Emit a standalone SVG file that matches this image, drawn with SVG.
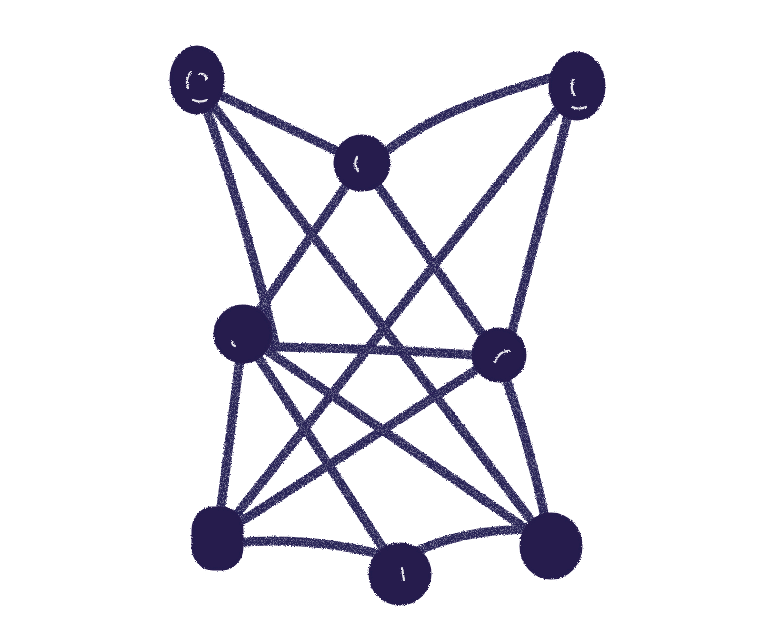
<svg xmlns="http://www.w3.org/2000/svg" width="768" height="640" viewBox="0 0 768 640">
<defs>
<filter id="rough" x="-10%" y="-10%" width="120%" height="120%">
<feTurbulence type="fractalNoise" baseFrequency="0.9" numOctaves="2" seed="3" result="n"/>
<feDisplacementMap in="SourceGraphic" in2="n" scale="3" xChannelSelector="R" yChannelSelector="G" result="d"/>
<feTurbulence type="fractalNoise" baseFrequency="1.6" numOctaves="1" seed="7" result="n2"/>
<feColorMatrix in="n2" type="matrix" values="0 0 0 0 0  0 0 0 0 0  0 0 0 0 0  0 0 0 -1.6 1.75" result="mask"/>
<feComposite in="d" in2="mask" operator="in"/>
</filter>
<filter id="roughNode" x="-20%" y="-20%" width="140%" height="140%">
<feTurbulence type="fractalNoise" baseFrequency="0.7" numOctaves="2" seed="5" result="n"/>
<feDisplacementMap in="SourceGraphic" in2="n" scale="3" xChannelSelector="R" yChannelSelector="G"/>
</filter>
</defs>
<style>
.edge{fill:none;stroke:#272055;stroke-width:9;stroke-linecap:round}
.node{fill:#251b4e;stroke:#251b4e;stroke-width:3}
.hl{fill:none;stroke:#ffffff;stroke-width:2.2;stroke-linecap:round;opacity:0.9}
</style>
<rect width="768" height="640" fill="#ffffff"/>
<g id="connectors" filter="url(#rough)">
<path class="edge" d="M205,88 L362,163"/>
<path class="edge" d="M205,105 Q240,200 275,343"/>
<path class="edge" d="M205,95 L551,546"/>
<path class="edge" d="M385,152 C420,125 455,105 560,75"/>
<path class="edge" d="M362,163 L243,334"/>
<path class="edge" d="M362,163 L490,345"/>
<path class="edge" d="M572,100 Q540,220 510,340"/>
<path class="edge" d="M565,100 L217,539"/>
<path class="edge" d="M260,347 Q380,348 485,356"/>
<path class="edge" d="M243,334 L217,539"/>
<path class="edge" d="M243,334 L400,574"/>
<path class="edge" d="M243,334 L551,546"/>
<path class="edge" d="M499,355 L225,532"/>
<path class="edge" d="M499,360 Q530,440 551,546"/>
<path class="edge" d="M230,543 Q320,535 400,560"/>
<path class="edge" d="M400,560 Q460,525 551,530"/>
</g>
<g id="nodeA" filter="url(#roughNode)">
<ellipse class="node" cx="197" cy="80" rx="26" ry="33"/>
<path class="hl" d="M190,73 Q185,80 188,88 M199,74 Q207,73 206,80 M193,100 Q200,103 207,100"/>
</g>
<g id="nodeB" filter="url(#roughNode)">
<circle class="node" cx="362" cy="163" r="27"/>
<path class="hl" d="M357,157 Q353,164 358,171"/>
</g>
<g id="nodeC" filter="url(#roughNode)">
<ellipse class="node" cx="577" cy="86" rx="27" ry="33"/>
<path class="hl" d="M573,80 Q570,88 574,95 M572,107 Q579,110 586,107"/>
</g>
<g id="nodeD" filter="url(#roughNode)">
<circle class="node" cx="243" cy="334" r="28"/>
<path class="hl" d="M232,341 Q232,345 235,346"/>
</g>
<g id="nodeE" filter="url(#roughNode)">
<circle class="node" cx="499" cy="355" r="26"/>
<path class="hl" d="M495,362 Q500,350 510,351"/>
</g>
<g id="nodeF" filter="url(#roughNode)">
<rect class="node" x="193" y="508" width="49" height="61" rx="20" ry="22"/>
</g>
<g id="nodeG" filter="url(#roughNode)">
<circle class="node" cx="400" cy="574" r="30"/>
<path class="hl" d="M402,568 L404,580"/>
</g>
<g id="nodeH" filter="url(#roughNode)">
<ellipse class="node" cx="551" cy="546" rx="30" ry="32"/>
</g>
</svg>
